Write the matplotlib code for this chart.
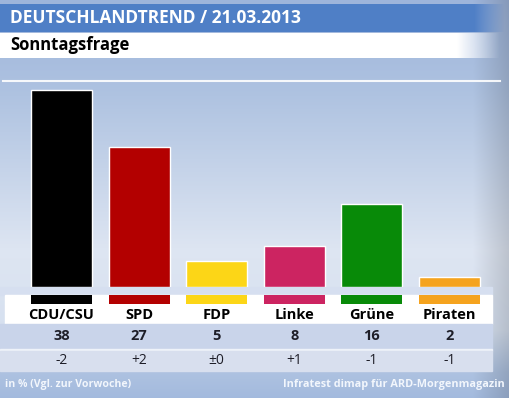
#!/usr/bin/env python3
"""
Deutschlandtrend Sonntagsfrage bar chart
"""
import numpy as np
import matplotlib
matplotlib.use("Agg")
import matplotlib.pyplot as plt
from matplotlib.patches import Rectangle

parties = ["CDU/CSU", "SPD", "FDP", "Linke", "Grüne", "Piraten"]
shares = [38, 27, 5, 8, 16, 2]
changes = ["-2", "+2", "±0", "+1", "-1", "-1"]
colors = ["#000000", "#b30000", "#fcd617", "#cc2461", "#088a08", "#f5a31e"]

title = "DEUTSCHLANDTREND / 21.03.2013"
subtitle = "Sonntagsfrage"
footer_left = "in % (Vgl. zur Vorwoche)"
footer_right = "Infratest dimap für ARD-Morgenmagazin"

W, H = 509, 398
FONT = ["Open Sans", "DejaVu Sans"]

fig = plt.figure(figsize=(W / 100, H / 100), dpi=100)

# background in pixel coordinates
bg = fig.add_axes([0, 0, 1, 1])
bg.set_xlim(0, W)
bg.set_ylim(H, 0)
bg.axis("off")

rows = np.arange(H)
stops_y = [0, 90, 250, 330, 372, 398]
stops_c = np.array([[0.62, 0.71, 0.86],
                    [0.68, 0.76, 0.88],
                    [0.87, 0.90, 0.95],
                    [0.84, 0.88, 0.94],
                    [0.68, 0.76, 0.88],
                    [0.64, 0.73, 0.87]])
col = np.stack([np.interp(rows, stops_y, stops_c[:, k]) for k in range(3)], axis=1)
img = col[:, None, :] * np.ones((H, W, 1))
xx = np.linspace(0, 1, W)[None, :]
edge = np.clip((xx - 0.93) / 0.07, 0, 1)[..., None]
img = img * (1 - 0.15 * edge)
bg.imshow(img, extent=(0, W, H, 0), aspect="auto", zorder=0)

def fading_bar(y0, y1, x_end, fade_w, rgb):
    """ Horizontal colour band whose right end fades out """
    n = 500
    xs = np.linspace(0, x_end, n)
    alpha = np.clip((x_end - xs) / fade_w, 0, 1)
    band = np.ones((2, n, 4))
    band[..., :3] = rgb
    band[..., 3] = alpha[None, :]
    bg.imshow(band, extent=(0, x_end, y1, y0), aspect="auto", zorder=1,
              interpolation="bilinear")

# title bar and subtitle bar
fading_bar(4, 32, 505, 30, (0.31, 0.50, 0.78))
bg.text(10, 18, title, color="white", fontsize=12.5, fontweight="bold",
        family=FONT, va="center", ha="left", zorder=3)
fading_bar(33, 58, 500, 42, (1.0, 1.0, 1.0))
bg.text(10, 45.5, subtitle, color="black", fontsize=12, fontweight="bold",
        family=FONT, va="center", ha="left", zorder=3)

# top line of plot area
bg.plot([3, 500], [81, 81], color="white", lw=1.5, alpha=0.9, zorder=1)

# light band under baseline and white label strip
bg.add_patch(Rectangle((0, 287), 492, 8, color="#d6dff0", zorder=1))
bg.add_patch(Rectangle((5, 295), 487, 29, color="white", zorder=1))
# values row and change row
bg.add_patch(Rectangle((0, 324), 492, 25, color="#c9d4ea", zorder=1))
bg.add_patch(Rectangle((0, 349), 492, 2, color="#eef2f9", zorder=1))
bg.add_patch(Rectangle((0, 351), 492, 20, color="#d8dfee", zorder=1))

bg.text(5, 384, footer_left, color="#f2f6fc", fontsize=7.6,
        fontweight="bold", family=FONT, va="center", ha="left", zorder=3)
bg.text(505, 384, footer_right, color="#f2f6fc", fontsize=7.8,
        fontweight="bold", family=FONT, va="center", ha="right", zorder=3)

# bars, positioned so bar centres land on the original pitch
pitch = 77.6
c0 = 61.5
px_per_unit = 197 / 38
x = np.arange(len(parties))
xlim = (-c0 / pitch, (W - c0) / pitch)

ax = fig.add_axes([0, (H - 287) / H, 1, (287 - 81) / H])
ax.set_xlim(*xlim)
ax.set_ylim(0, (287 - 81) / px_per_unit)
ax.axis("off")
ax.patch.set_alpha(0)
ax.bar(x, shares, width=61 / pitch, color=colors, edgecolor="white",
       linewidth=1.0, zorder=2)

# bar stubs, labels and numbers below the baseline
lab = fig.add_axes([0, 0, 1, 1])
lab.set_xlim(*xlim)
lab.set_ylim(H, 0)
lab.axis("off")
lab.patch.set_alpha(0)
lab.bar(x, 9, bottom=295, width=61 / pitch, color=colors, zorder=2)
for i, name in enumerate(parties):
    lab.text(i, 315, name, fontsize=10.5, fontweight="bold", family=FONT,
             ha="center", va="center", color="black")
    lab.text(i, 336, str(shares[i]), fontsize=10.5, fontweight="bold",
             family=FONT, ha="center", va="center", color="#1e1e28")
    lab.text(i, 360.5, changes[i], fontsize=10, family=FONT,
             ha="center", va="center", color="#1e1e28")

fig.savefig("out.png", dpi=100)
